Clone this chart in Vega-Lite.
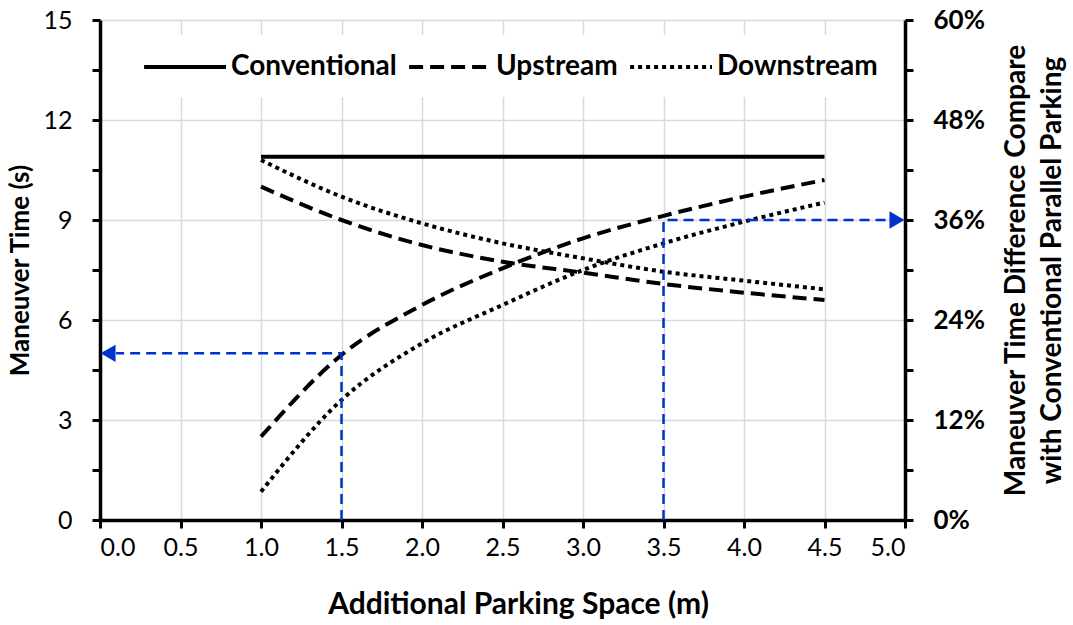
{
  "$schema": "https://vega.github.io/schema/vega-lite/v6.json",
  "width": 805,
  "height": 500,
  "autosize": {"type": "none"},
  "padding": {"left": 100, "top": 20, "right": 168, "bottom": 105},
  "background": "white",
  "config": {
    "view": {"stroke": null},
    "font": "Lato",
    "axis": {
      "labelFontSize": 25,
      "titleFontSize": 30,
      "titleFontWeight": "bold",
      "labelColor": "black",
      "titleColor": "black",
      "domainColor": "black",
      "domainWidth": 3.5,
      "tickColor": "black",
      "tickWidth": 3,
      "tickSize": 8,
      "gridColor": "#d9d9d9",
      "gridWidth": 1.5
    }
  },
  "datasets": {
    "times": [
      {"series": "Conventional", "x": 1.0, "y": 10.9},
      {"series": "Conventional", "x": 4.5, "y": 10.9},
      {"series": "Upstream", "x": 1.0, "y": 10.0},
      {"series": "Upstream", "x": 1.5, "y": 9.0},
      {"series": "Upstream", "x": 2.0, "y": 8.25},
      {"series": "Upstream", "x": 2.5, "y": 7.75},
      {"series": "Upstream", "x": 3.0, "y": 7.42},
      {"series": "Upstream", "x": 3.5, "y": 7.08},
      {"series": "Upstream", "x": 4.0, "y": 6.82},
      {"series": "Upstream", "x": 4.5, "y": 6.6},
      {"series": "Downstream", "x": 1.0, "y": 10.8},
      {"series": "Downstream", "x": 1.5, "y": 9.7},
      {"series": "Downstream", "x": 2.0, "y": 8.9},
      {"series": "Downstream", "x": 2.5, "y": 8.3},
      {"series": "Downstream", "x": 3.0, "y": 7.85},
      {"series": "Downstream", "x": 3.5, "y": 7.45},
      {"series": "Downstream", "x": 4.0, "y": 7.18},
      {"series": "Downstream", "x": 4.5, "y": 6.92}
    ],
    "diffs": [
      {"series": "Upstream", "x": 1.0, "y": 0.100},
      {"series": "Upstream", "x": 1.5, "y": 0.198},
      {"series": "Upstream", "x": 2.0, "y": 0.258},
      {"series": "Upstream", "x": 2.5, "y": 0.302},
      {"series": "Upstream", "x": 3.0, "y": 0.338},
      {"series": "Upstream", "x": 3.5, "y": 0.365},
      {"series": "Upstream", "x": 4.0, "y": 0.388},
      {"series": "Upstream", "x": 4.5, "y": 0.408},
      {"series": "Downstream", "x": 1.0, "y": 0.034},
      {"series": "Downstream", "x": 1.5, "y": 0.144},
      {"series": "Downstream", "x": 2.0, "y": 0.212},
      {"series": "Downstream", "x": 2.5, "y": 0.258},
      {"series": "Downstream", "x": 3.0, "y": 0.300},
      {"series": "Downstream", "x": 3.5, "y": 0.332},
      {"series": "Downstream", "x": 4.0, "y": 0.358},
      {"series": "Downstream", "x": 4.5, "y": 0.381}
    ],
    "guides": [
      {"g": "a", "o": 1, "x": 1.5, "y": 0},
      {"g": "a", "o": 2, "x": 1.5, "y": 5},
      {"g": "a", "o": 3, "x": 0.1, "y": 5},
      {"g": "b", "o": 1, "x": 3.5, "y": 0},
      {"g": "b", "o": 2, "x": 3.5, "y": 9},
      {"g": "b", "o": 3, "x": 4.9, "y": 9}
    ],
    "arrows": [
      {"dir": "left", "x": 0.05, "y": 5},
      {"dir": "right", "x": 4.95, "y": 9}
    ]
  },
  "encoding": {
    "x": {
      "field": "x",
      "type": "quantitative",
      "scale": {"domain": [0, 5], "nice": false, "zero": false},
      "axis": {
        "title": "Additional Parking Space (m)",
        "values": [0, 0.5, 1, 1.5, 2, 2.5, 3, 3.5, 4, 4.5, 5],
        "format": ".1f",
        "grid": true,
        "labelPadding": 7,
        "titlePadding": 29,
        "titleX": 418
      }
    }
  },
  "layer": [
    {
      "data": {"name": "times"},
      "mark": {"type": "line", "strokeWidth": 4, "strokeCap": "butt", "interpolate": "monotone", "color": "black"},
      "encoding": {
        "y": {
          "field": "y",
          "type": "quantitative",
          "scale": {"domain": [0, 15], "nice": false},
          "axis": {
            "orient": "left",
            "title": "Maneuver Time (s)",
            "titleFontSize": 26,
            "values": [0, 1.5, 3, 4.5, 6, 7.5, 9, 10.5, 12, 13.5, 15],
            "labelExpr": "datum.value % 3 === 0 ? datum.label : ''",
            "grid": true,
            "gridOpacity": {"condition": {"test": "datum.value % 3 === 0", "value": 1}, "value": 0},
            "labelPadding": 20,
            "titlePadding": 9
          }
        },
        "strokeDash": {
          "field": "series",
          "type": "nominal",
          "scale": {"domain": ["Conventional", "Upstream", "Downstream"], "range": [[1, 0], [14, 7], [4, 4]]},
          "legend": {
            "orient": "none",
            "legendX": 80,
            "legendY": 15,
            "direction": "horizontal",
            "title": null,
            "fillColor": "white",
            "padding": 16,
            "symbolType": "M-4.85,0H1",
            "symbolSize": 784,
            "symbolStrokeWidth": 4,
            "symbolStrokeColor": "black",
            "labelFontSize": 28,
            "labelFontWeight": "bold",
            "labelColor": "black",
            "labelOffset": 3,
            "labelLimit": 400,
            "columnPadding": 4
          }
        }
      }
    },
    {
      "data": {"name": "diffs"},
      "mark": {"type": "line", "strokeWidth": 4, "strokeCap": "butt", "interpolate": "monotone", "color": "black"},
      "encoding": {
        "y": {
          "field": "y",
          "type": "quantitative",
          "scale": {"domain": [0, 0.6], "nice": false},
          "axis": {
            "orient": "right",
            "title": ["Maneuver Time Difference Compare", "with Conventional Parallel Parking"],
            "titleFontSize": 28,
            "titleAngle": 270,
            "titleBaseline": "middle",
            "titleAlign": "center",
            "titleX": 111,
            "titleY": 250,
            "titleLineHeight": 36,
            "values": [0, 0.06, 0.12, 0.18, 0.24, 0.3, 0.36, 0.42, 0.48, 0.54, 0.6],
            "labelExpr": "round(datum.value * 100) % 12 === 0 ? format(datum.value, '.0%') : ''",
            "labelFontWeight": "bold",
            "labelFontSize": 26,
            "grid": false,
            "labelPadding": 20
          }
        },
        "strokeDash": {
          "field": "series",
          "type": "nominal",
          "scale": {"domain": ["Conventional", "Upstream", "Downstream"], "range": [[1, 0], [14, 7], [4, 4]]}
        }
      }
    },
    {
      "data": {"name": "guides"},
      "mark": {"type": "line", "color": "#0033cc", "strokeWidth": 2.5, "strokeDash": [10, 6]},
      "encoding": {
        "y": {"field": "y", "type": "quantitative", "scale": {"domain": [0, 15], "nice": false}, "axis": null},
        "detail": {"field": "g", "type": "nominal"},
        "order": {"field": "o", "type": "quantitative"}
      }
    },
    {
      "data": {"name": "arrows"},
      "mark": {"type": "point", "filled": true, "color": "#0033cc", "size": 300, "opacity": 1},
      "encoding": {
        "y": {"field": "y", "type": "quantitative", "scale": {"domain": [0, 15], "nice": false}, "axis": null},
        "shape": {"field": "dir", "type": "nominal", "scale": {"domain": ["left", "right"], "range": ["triangle-left", "triangle-right"]}, "legend": null}
      }
    }
  ],
  "resolve": {"scale": {"y": "independent"}}
}
